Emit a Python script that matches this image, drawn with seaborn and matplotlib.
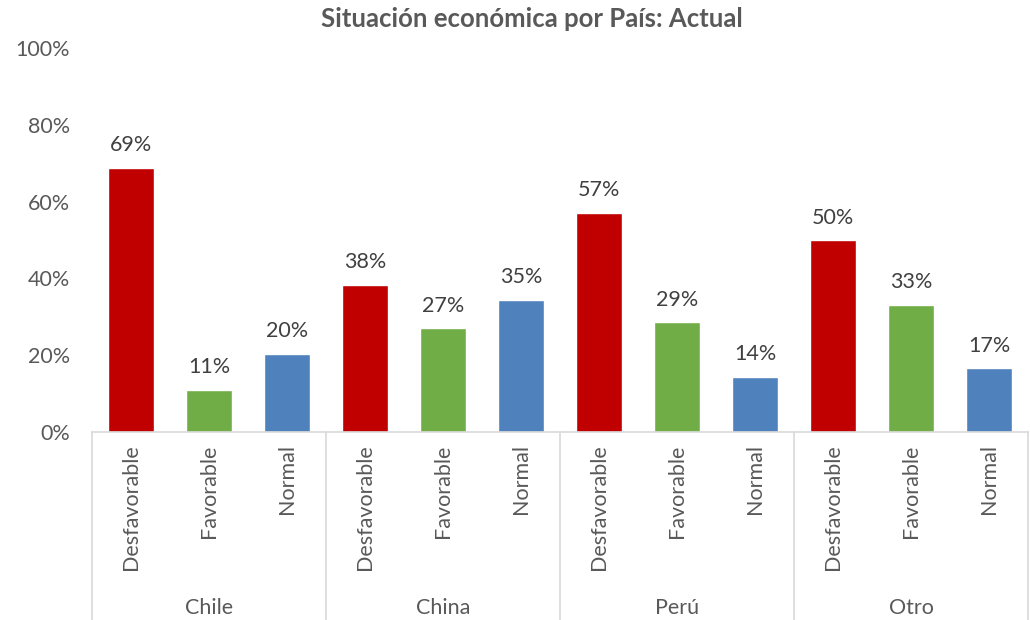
import pandas as pd
import seaborn as sns
import matplotlib.pyplot as plt
import matplotlib.transforms as mtransforms

# datos
paises = ["Chile", "China", "Perú", "Otro"]
situaciones = ["Desfavorable", "Favorable", "Normal"]
desfavorable = [68.8, 38.4, 57.1, 49.9]
favorable = [10.9, 27.0, 28.6, 33.2]
normal = [20.3, 34.5, 14.3, 16.6]
etiquetas = ["69%", "11%", "20%", "38%", "27%", "35%",
             "57%", "29%", "14%", "50%", "33%", "17%"]

colores = {"Desfavorable": "#C00000", "Favorable": "#70AD47", "Normal": "#4F81BD"}
gris = "#595959"

rows = []
for i, p in enumerate(paises):
    for s, vals in zip(situaciones, [desfavorable, favorable, normal]):
        rows.append({"pais": p, "situacion": s, "valor": vals[i] / 100,
                     "slot": f"{p}-{s}"})
df = pd.DataFrame(rows)

sns.set_style("white")
plt.rcParams['font.family'] = ['Lato', 'DejaVu Sans']

fig = plt.figure(figsize=(10.3, 6.2), dpi=100)
ax = fig.add_axes([92 / 1030, 1 - 432 / 620, (1028 - 92) / 1030, (432 - 48) / 620])

sns.barplot(data=df, x="slot", y="valor", hue="situacion", palette=colores,
            dodge=False, width=0.6, legend=False, ax=ax, saturation=1)

ax.set_ylim(0, 1.0)
ax.set_xlim(-0.5, len(df) - 0.5)
ax.set_yticks([0, 0.2, 0.4, 0.6, 0.8, 1.0])
ax.set_yticklabels(["0%", "20%", "40%", "60%", "80%", "100%"], fontsize=15.5, color=gris)
ax.tick_params(axis="y", length=0, pad=16)
ax.set_xticks(range(len(df)))
ax.set_xticklabels(list(df["situacion"]), rotation=90, fontsize=15.5, color=gris)
ax.tick_params(axis="x", length=0, pad=9)
ax.set_xlabel("")
ax.set_ylabel("")

for sp in ["top", "right", "left"]:
    ax.spines[sp].set_visible(False)
ax.spines["bottom"].set_color("#D9D9D9")
ax.spines["bottom"].set_linewidth(1.2)

# etiquetas de datos
for i, (v, t) in enumerate(zip(df["valor"], etiquetas)):
    ax.text(i, v + 0.033, t, ha="center", va="bottom", fontsize=15.5, color="#404040")

# separadores y nombres de pais
trans = mtransforms.blended_transform_factory(ax.transData, ax.transAxes)
bottom = -(620 - 432) / (432 - 48)
for k in range(len(paises) + 1):
    x = k * 3 - 0.5
    ax.plot([x, x], [0, bottom], transform=trans, color="#D9D9D9",
            lw=1.2, clip_on=False)
for k, p in enumerate(paises):
    ax.text(k * 3 + 1, -(608 - 432) / (432 - 48), p, transform=trans,
            ha="center", va="center", fontsize=15.5, color=gris)

fig.text(532 / 1030, 1 - 19 / 620, "Situación económica por País: Actual",
         ha="center", va="center", fontsize=18.5, fontweight="bold", color=gris)

fig.savefig("out.png", dpi=100, facecolor="white")
